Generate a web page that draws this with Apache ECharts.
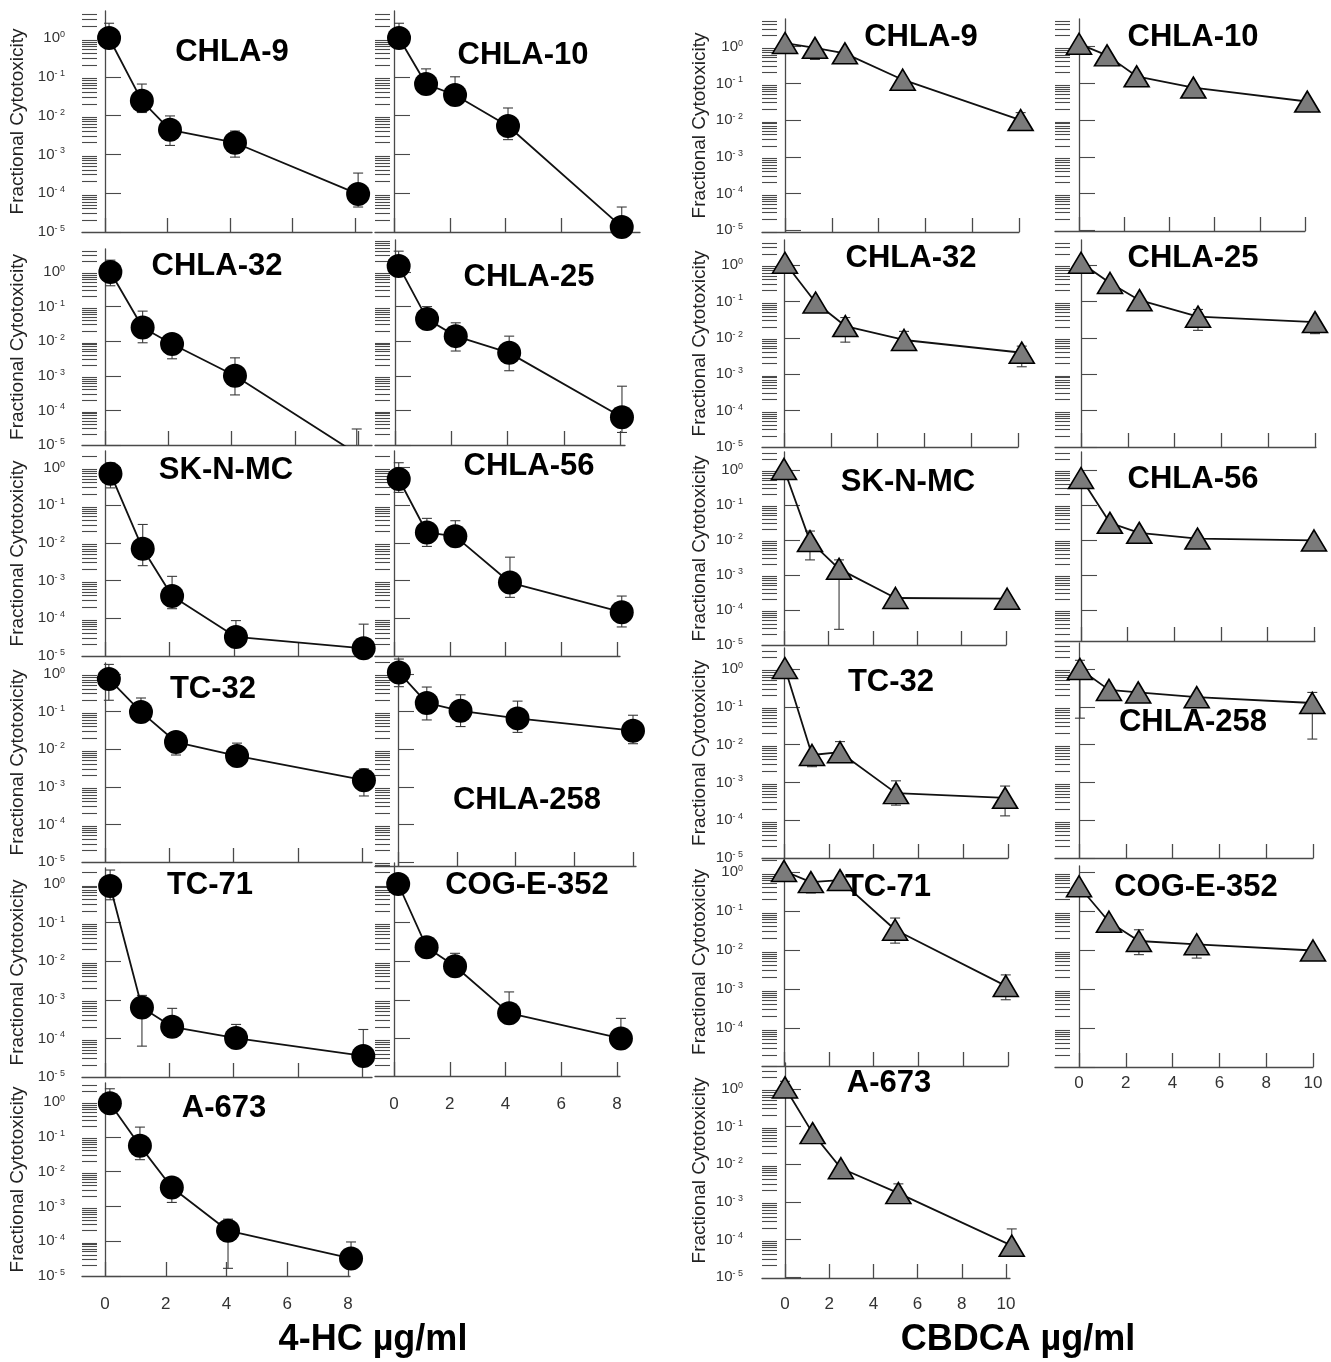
<!DOCTYPE html>
<html><head><meta charset="utf-8">
<script src="https://cdn.jsdelivr.net/npm/echarts@6/dist/echarts.min.js"></script>
<style>html,body{margin:0;padding:0;background:#fff}#c{width:1331px;height:1362px}</style>
</head><body><div id="c"></div><script>
// ================= DATA =================
// x tick labels
const hcTicks = [0, 2, 4, 6, 8];
const cbTicks = [0, 2, 4, 6, 8, 10];
// y tick exponents (10^e)
const yExponents = [0, -1, -2, -3, -4, -5];
const yAxisTitle = 'Fractional Cytotoxicity';
const hcAxisTitle = '4-HC µg/ml';
const cbAxisTitle = 'CBDCA µg/ml';

// each row: [dose µg/ml, fractional cytotoxicity, error low (or null), error high (or null)]
// ---- 4-HC ----
const hc_CHLA9   = [[0.13,1.0,null,2.4],[1.18,0.024,0.012,0.065],[2.08,0.0043,0.0017,0.0098],[4.16,0.0020,0.00085,0.0040],[8.1,9.5e-5,4.4e-5,3.3e-4]];
const hc_CHLA10  = [[0.18,1.0,null,2.4],[1.15,0.065,null,0.16],[2.19,0.034,null,0.1],[4.09,0.0054,0.0024,0.0157],[8.17,1.35e-5,null,4.4e-5]];
const hc_CHLA32  = [[0.17,1.0,0.4,2.2],[1.19,0.025,0.009,0.074],[2.12,0.0083,0.0031,null],[4.11,0.001,2.8e-4,0.0033],[7.96,5.6e-6,null,2.9e-5]];
const hc_CHLA25  = [[0.13,1.5,null,4.0],[1.14,0.044,null,0.1],[2.16,0.014,0.0052,0.034],[4.06,0.0046,0.0014,0.014],[8.07,6.3e-5,2.3e-5,5e-4]];
const hc_SKNMC   = [[0.17,0.69,0.29,1.35],[1.17,0.007,0.0025,0.031],[2.08,3.9e-4,1.8e-4,0.0013],[4.06,3.2e-5,1.7e-5,8.7e-5],[8.02,1.6e-5,null,7e-5]];
const hc_CHLA56  = [[0.17,0.5,0.22,1.35],[1.18,0.019,0.0081,0.045],[2.2,0.015,null,0.039],[4.16,8.9e-4,3.6e-4,0.0042],[8.17,1.45e-4,5.9e-5,3.9e-4]];
const hc_TC32    = [[0.12,0.74,0.2,1.8],[1.12,0.098,0.053,0.23],[2.21,0.0155,0.007,null],[4.11,0.0066,null,0.0145],[8.06,0.0015,5.7e-4,0.003]];
const hc_CHLA258 = [[0.03,1.1,0.46,2.5],[0.98,0.17,0.06,0.45],[2.13,0.105,0.04,0.28],[4.07,0.066,0.028,0.19],[8.0,0.031,0.014,0.08]];
const hc_TC71    = [[0.16,0.89,0.39,2.3],[1.15,6.3e-4,6.3e-5,1.3e-3],[2.09,2.0e-4,null,6e-4],[4.08,1.02e-4,null,2.3e-4],[8.04,3.5e-5,null,1.7e-4]];
const hc_COGE352 = [[0.15,1.0,null,null],[1.17,0.023,null,null],[2.19,0.0074,null,0.016],[4.13,4.5e-4,null,1.6e-3],[8.14,1.0e-4,null,3.3e-4]];
const hc_A673    = [[0.16,0.92,null,2.4],[1.15,0.055,0.022,0.19],[2.2,0.0035,0.0013,null],[4.05,2.0e-4,1.66e-5,4.3e-4],[8.1,3.2e-5,null,9.5e-5]];
// ---- CBDCA ----
const cb_CHLA9   = [[0.0,1.26,null,null],[1.28,0.93,0.45,null],[2.56,0.66,null,null],[5.03,0.126,null,null],[10.07,0.01,null,0.016]];
const cb_CHLA10  = [[0.0,1.2,null,null],[1.24,0.58,null,null],[2.55,0.156,null,null],[5.06,0.077,null,null],[10.1,0.032,null,null]];
const cb_CHLA32  = [[0.04,1.15,null,null],[1.35,0.093,null,null],[2.62,0.021,0.0076,0.036],[5.13,0.0087,null,0.015],[10.16,0.0039,0.0016,0.0059]];
const cb_CHLA25  = [[0.0,1.15,null,null],[1.24,0.32,null,null],[2.5,0.108,null,null],[5.0,0.038,0.016,0.06],[10.0,0.027,0.013,null]];
const cb_SKNMC   = [[0.0,1.07,null,null],[1.17,0.0093,0.0027,0.018],[2.48,0.0015,2.8e-5,0.0027],[5.02,2.2e-4,1.1e-4,null],[10.05,2.1e-4,null,null]];
const cb_CHLA56  = [[0.0,0.59,null,null],[1.24,0.031,null,null],[2.5,0.016,null,null],[5.0,0.011,null,null],[10.0,0.0097,null,null]];
const cb_TC32    = [[0.04,1.06,null,null],[1.25,0.0053,0.0026,null],[2.5,0.0063,null,0.012],[5.0,5.2e-4,2.5e-4,0.0011],[9.87,3.9e-4,1.3e-4,8e-4]];
const cb_CHLA258 = [[0.04,1.0,0.05,1.7],[1.28,0.28,null,null],[2.53,0.24,null,null],[5.03,0.18,null,null],[9.97,0.126,0.014,0.24]];
const cb_TC71    = [[0.0,1.06,null,null],[1.2,0.55,0.29,null],[2.5,0.62,null,null],[4.96,0.033,0.015,0.066],[9.9,0.0012,5.3e-4,0.0023]];
const cb_COGE352 = [[0.0,0.43,null,null],[1.28,0.053,null,null],[2.56,0.017,0.0076,0.033],[5.03,0.014,0.0062,null],[10.0,0.0097,null,null]];
const cb_A673    = [[0.0,1.1,null,1.6],[1.25,0.067,null,null],[2.53,0.0078,null,null],[5.13,0.0017,null,0.003],[10.26,6.8e-5,null,1.9e-4]];

// ================= LAYOUT =================
const FF = '"Liberation Sans", Arial, Helvetica, sans-serif';
const AX = '#4a4a4a';
// left/right: axis extent px; top/bottom: y axis extent px; y0: px of 10^0; pxd: px per decade
// x0: px of dose 0; xT: px of last tick; tx,ty: title centre
const panels = [
  {d:hc_CHLA9,  t:'CHLA-9',   drug:'hc', yl:true,  left:82,  right:372, top:11,  y0:38,    pxd:38.8, bottom:232,  x0:105, xT:355, tx:232, ty:52},
  {d:hc_CHLA32, t:'CHLA-32',  drug:'hc', yl:true,  left:82,  right:372, top:249, y0:272,   pxd:34.6, bottom:445,  x0:105, xT:358, tx:217, ty:266, clip:true},
  {d:hc_SKNMC,  t:'SK-N-MC',  drug:'hc', yl:true,  left:82,  right:372, top:451, y0:467.7, pxd:37.8, bottom:656,  x0:105, xT:363, tx:226, ty:470},
  {d:hc_TC32,   t:'TC-32',    drug:'hc', yl:true,  left:82,  right:372, top:663, y0:674,   pxd:37.6, bottom:862,  x0:105, xT:362, tx:213, ty:689},
  {d:hc_TC71,   t:'TC-71',    drug:'hc', yl:true,  left:82,  right:372, top:868, y0:884,   pxd:38.6, bottom:1077, x0:105, xT:362, tx:210, ty:885},
  {d:hc_A673,   t:'A-673',    drug:'hc', yl:true,  left:82,  right:350, top:1083,y0:1102,  pxd:34.8, bottom:1276, x0:105, xT:348, tx:224, ty:1108, xl:true, xm:20},
  {d:hc_CHLA10, t:'CHLA-10',  drug:'hc', yl:false, left:375, right:640, top:11,  y0:38,    pxd:38.8, bottom:232,  x0:394, xT:617, tx:523, ty:55},
  {d:hc_CHLA25, t:'CHLA-25',  drug:'hc', yl:false, left:375, right:625, top:240, y0:272,   pxd:34.6, bottom:445,  x0:395, xT:620, tx:529, ty:277},
  {d:hc_CHLA56, t:'CHLA-56',  drug:'hc', yl:false, left:375, right:620, top:451, y0:467.7, pxd:37.8, bottom:656,  x0:394, xT:617, tx:529, ty:466},
  {d:hc_CHLA258,t:'CHLA-258', drug:'hc', yl:false, left:375, right:636, top:658, y0:674,   pxd:37.6, bottom:866,  x0:398, xT:633, tx:527, ty:800},
  {d:hc_COGE352,t:'COG-E-352',drug:'hc', yl:false, left:375, right:620, top:863, y0:884,   pxd:38.6, bottom:1076, x0:394, xT:617, tx:527, ty:885, xl:true, xm:20},
  {d:cb_CHLA9,  t:'CHLA-9',   drug:'cb', yl:true,  left:762, right:1019,top:19,  y0:46.7,  pxd:36.7, bottom:232,  x0:785, xT:1019, tx:921, ty:37},
  {d:cb_CHLA32, t:'CHLA-32',  drug:'cb', yl:true,  left:762, right:1018,top:240, y0:265,   pxd:36.4, bottom:447,  x0:784, xT:1018, tx:911, ty:258},
  {d:cb_SKNMC,  t:'SK-N-MC',  drug:'cb', yl:true,  left:762, right:1006,top:452, y0:470,   pxd:35,   bottom:645,  x0:784, xT:1006, tx:908, ty:482},
  {d:cb_TC32,   t:'TC-32',    drug:'cb', yl:true,  left:762, right:1008,top:648, y0:669,   pxd:37.8, bottom:858,  x0:784, xT:1008, tx:891, ty:682},
  {d:cb_TC71,   t:'TC-71',    drug:'cb', yl:true,  left:762, right:1008,top:858, y0:872,   pxd:39,   bottom:1066, x0:784, xT:1008, tx:888, ty:887},
  {d:cb_A673,   t:'A-673',    drug:'cb', yl:true,  left:762, right:1010,top:1063,y0:1089,  pxd:37.6, bottom:1278, x0:785, xT:1006, tx:889, ty:1083, xl:true, xm:18},
  {d:cb_CHLA10, t:'CHLA-10',  drug:'cb', yl:false, left:1055,right:1305,top:19,  y0:46.7,  pxd:36.7, bottom:231,  x0:1079,xT:1305, tx:1193, ty:37},
  {d:cb_CHLA25, t:'CHLA-25',  drug:'cb', yl:false, left:1055,right:1316,top:240, y0:265,   pxd:36.4, bottom:447,  x0:1081,xT:1315, tx:1193, ty:258},
  {d:cb_CHLA56, t:'CHLA-56',  drug:'cb', yl:false, left:1055,right:1315,top:452, y0:470,   pxd:35,   bottom:641,  x0:1081,xT:1314, tx:1193, ty:479},
  {d:cb_CHLA258,t:'CHLA-258', drug:'cb', yl:false, left:1055,right:1313,top:643, y0:669,   pxd:37.8, bottom:858,  x0:1079,xT:1313, tx:1193, ty:722},
  {d:cb_COGE352,t:'COG-E-352',drug:'cb', yl:false, left:1055,right:1313,top:866, y0:872,   pxd:39,   bottom:1067, x0:1079,xT:1313, tx:1196, ty:887, xl:true, xm:8}
];

// ================= BUILD =================
const option = {animation:false, backgroundColor:'#fff', grid:[], xAxis:[], yAxis:[], series:[], graphic:[]};

function errRender(params, api) {
  const x = api.value(0), lo = api.value(1), hi = api.value(2);
  const hasLo = api.value(3), hasHi = api.value(4);
  const a = api.coord([x, lo]), b = api.coord([x, hi]);
  const cw = 5, st = {stroke:'#3a3a3a', lineWidth:1.1};
  const ch = [{type:'line', shape:{x1:a[0], y1:a[1], x2:b[0], y2:b[1]}, style:st}];
  if (hasLo) ch.push({type:'line', shape:{x1:a[0]-cw, y1:a[1], x2:a[0]+cw, y2:a[1]}, style:st});
  if (hasHi) ch.push({type:'line', shape:{x1:b[0]-cw, y1:b[1], x2:b[0]+cw, y2:b[1]}, style:st});
  return {type:'group', children:ch};
}

function yLabel(v) {
  const e = Math.round(Math.log10(v));
  return e === 0 ? '{b|10}{s|0}' : '{b|10}{s|- ' + (-e) + '}';
}

panels.forEach(function (p, i) {
  const ticks = p.drug === 'hc' ? hcTicks : cbTicks;
  const tMax = ticks[ticks.length - 1];
  const ppu = (p.xT - p.x0) / tMax;
  const xMin = (p.left - p.x0) / ppu, xMax = (p.right - p.x0) / ppu;
  let eMin = -(p.bottom - p.y0) / p.pxd;
  if (Math.abs(eMin + 5) < 0.02) eMin = -5.0005;
  const eMax = (p.y0 - p.top) / p.pxd;
  const yMin = Math.pow(10, eMin), yMax = Math.pow(10, eMax);
  const majors = yExponents.filter(function (e) { return e >= eMin && e <= eMax; }).map(function (e) { return Math.pow(10, e); });
  const minors = [];
  for (let e = -6; e <= 1; e++) for (let k = 2; k <= 9; k++) {
    const le = e + Math.log10(k);
    if (le > eMin && le < eMax) minors.push(k * Math.pow(10, e));
  }
  option.grid.push({left:p.left, top:p.top, width:p.right - p.left, height:p.bottom - p.top, containLabel:false, outerBoundsMode:'none'});
  option.xAxis.push({
    type:'value', gridIndex:i, min:xMin, max:xMax,
    axisLine:{show:true, onZero:false, lineStyle:{color:AX, width:1.3}},
    axisTick:{show:true, inside:true, length:14, customValues:ticks, lineStyle:{color:AX, width:1.3}},
    axisLabel:{show:!!p.xl, customValues:ticks, margin:p.xm || 18, fontSize:17, color:'#333', fontFamily:FF},
    splitLine:{show:false}
  });
  option.yAxis.push({
    type:'log', logBase:10, gridIndex:i, min:yMin, max:yMax, position:'left',
    axisLine:{show:true, lineStyle:{color:AX, width:1.3}},
    axisTick:{show:true, inside:true, length:16, customValues:majors, lineStyle:{color:AX, width:1.1}},
    axisLabel:{show:p.yl, customValues:majors, formatter:yLabel, margin:p.drug === 'hc' ? 17 : 19,
      rich:{b:{fontSize:15, color:'#333', fontFamily:FF, lineHeight:16},
            s:{fontSize:9, color:'#333', fontFamily:FF, lineHeight:9, verticalAlign:'top'}}},
    splitLine:{show:false},
    name:p.yl ? yAxisTitle : '', nameLocation:'middle', nameRotate:90, nameGap:p.drug === 'hc' ? 55 : 53,
    nameTextStyle:{fontSize:19, color:'#222', fontFamily:FF}
  });
  option.yAxis.push({
    type:'log', logBase:10, gridIndex:i, min:yMin, max:yMax, position:'left',
    axisLine:{show:false}, axisLabel:{show:false}, splitLine:{show:false},
    axisTick:{show:true, inside:true, length:15, customValues:minors, lineStyle:{color:AX, width:1.1}}
  });
  const isHC = p.drug === 'hc';
  option.series.push({
    type:'custom', xAxisIndex:i, yAxisIndex:2 * i, silent:true, z:1, clip:!!p.clip,
    encode:{x:0, y:[1, 2]},
    data:p.d.filter(function (r) { return r[2] != null || r[3] != null; }).map(function (r) {
      return [r[0], r[2] != null ? r[2] : r[1], r[3] != null ? r[3] : r[1], r[2] != null ? 1 : 0, r[3] != null ? 1 : 0];
    }),
    renderItem:errRender
  });
  option.series.push({
    type:'line', xAxisIndex:i, yAxisIndex:2 * i, z:3, clip:!!p.clip, silent:true,
    data:p.d.map(function (r) { return [r[0], r[1]]; }),
    symbol:isHC ? 'circle' : 'triangle', symbolSize:isHC ? 24 : [25, 21], showSymbol:true,
    itemStyle:isHC ? {color:'#000'} : {color:'#7b7b7b', borderColor:'#000', borderWidth:1.6},
    lineStyle:{color:'#111', width:1.8}
  });
  option.graphic.push({type:'text', x:p.tx, y:p.ty, z:100, silent:true,
    style:{text:p.t, fill:'#000', font:'bold 31px ' + FF, textAlign:'center', textVerticalAlign:'middle', align:'center', verticalAlign:'middle'}});
});
option.graphic.push({type:'text', x:373, y:1340, z:100, silent:true,
  style:{text:hcAxisTitle, fill:'#000', font:'bold 36px ' + FF, textAlign:'center', textVerticalAlign:'middle', align:'center', verticalAlign:'middle'}});
option.graphic.push({type:'text', x:1018, y:1340, z:100, silent:true,
  style:{text:cbAxisTitle, fill:'#000', font:'bold 36px ' + FF, textAlign:'center', textVerticalAlign:'middle', align:'center', verticalAlign:'middle'}});

const chart = echarts.init(document.getElementById('c'), null, {renderer:'canvas', width:1331, height:1362});
chart.setOption(option);
</script></body></html>
